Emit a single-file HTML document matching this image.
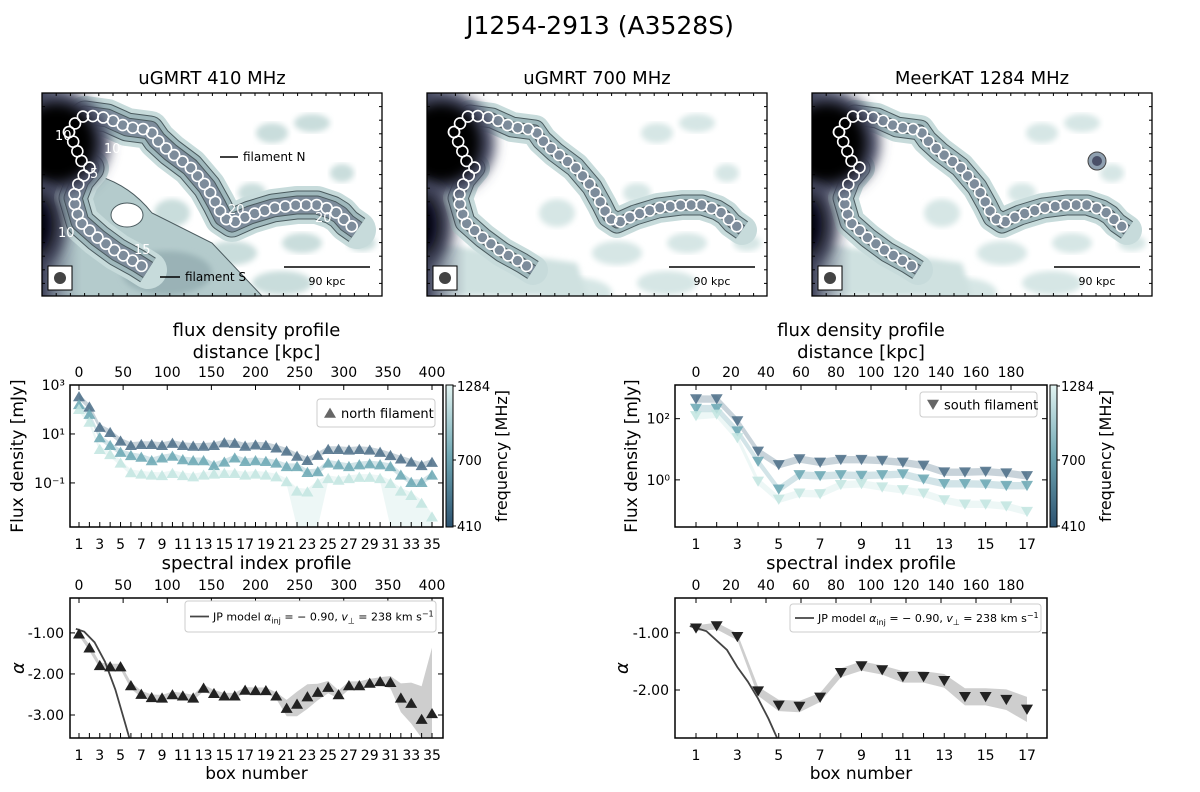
<!DOCTYPE html>
<html><head><meta charset="utf-8"><style>
html,body{margin:0;padding:0;background:#fff;overflow:hidden;width:1200px;height:792px}
svg{display:block;font-family:"DejaVu Sans","Liberation Sans",sans-serif}
</style></head><body>
<svg id="fig" width="1200" height="792" viewBox="0 0 1200 792" xmlns="http://www.w3.org/2000/svg">
<defs>
<linearGradient id="cbar" x1="0" y1="1" x2="0" y2="0">
<stop offset="0" stop-color="#2c5270"/><stop offset="0.5" stop-color="#6fa7b3"/><stop offset="1" stop-color="#e2f4f2"/>
</linearGradient>
<linearGradient id="edge" x1="0" y1="0" x2="1" y2="0">
<stop offset="0" stop-color="#3c3f57"/><stop offset="1" stop-color="#8a93a6" stop-opacity="0"/>
</linearGradient>
<filter id="soft"><feGaussianBlur stdDeviation="3"/></filter>
<filter id="blur6" x="-50%" y="-50%" width="200%" height="200%"><feGaussianBlur stdDeviation="6"/></filter>
</defs>
<text x="600" y="34" font-size="25" text-anchor="middle">J1254-2913 (A3528S)</text>
<g id="panels"></g>
<g id="charts"></g>
</svg>
<script>
// ---------- chart data ----------
const northBoxes = [1,2,3,4,5,6,7,8,9,10,11,12,13,14,15,16,17,18,19,20,21,22,23,24,25,26,27,28,29,30,31,32,33,34,35];
const northLog410 = [2.53,2.11,1.28,1.07,0.72,0.54,0.58,0.58,0.54,0.63,0.54,0.51,0.51,0.54,0.65,0.63,0.51,0.56,0.54,0.44,0.31,0.10,-0.07,0.14,0.38,0.38,0.35,0.38,0.35,0.26,0.13,-0.01,-0.14,-0.28,-0.15];
const northLog700 = [2.21,1.81,0.86,0.54,0.26,0.13,0.06,-0.08,0.03,0.10,-0.04,-0.08,-0.08,-0.28,-0.14,0.03,-0.11,-0.08,-0.11,-0.18,-0.32,-0.32,-0.56,-0.53,-0.18,-0.25,-0.32,-0.25,-0.21,-0.25,-0.32,-0.67,-0.97,-0.97,-0.67];
const northLog1284 = [2.01,1.49,0.38,0.17,-0.18,-0.57,-0.63,-0.67,-0.69,-0.60,-0.69,-0.74,-0.67,-0.63,-0.60,-0.60,-0.67,-0.63,-0.67,-0.74,-0.94,-1.32,-1.36,-1.01,-0.81,-0.88,-0.81,-0.76,-0.76,-0.81,-1.01,-1.32,-1.50,-1.82,-2.38];
const northUpperLimitBoxes = [22,23,24,31,32,33,34,35];
const southBoxes = [1,2,3,4,5,6,7,8,9,10,11,12,13,14,15,16,17];
const southLog410 = [2.64,2.64,1.92,0.93,0.49,0.68,0.57,0.66,0.66,0.63,0.57,0.47,0.25,0.25,0.27,0.22,0.13];
const southLog700 = [2.33,2.33,1.59,0.60,-0.31,0.16,0.13,0.16,0.14,0.16,0.19,0.02,-0.13,-0.13,-0.14,-0.19,-0.19];
const southLog1284 = [2.09,2.14,1.37,-0.05,-0.64,-0.44,-0.46,-0.16,-0.13,-0.24,-0.33,-0.44,-0.66,-0.80,-0.80,-0.86,-1.04];
const northAlpha = [-1.02,-1.36,-1.79,-1.82,-1.82,-2.28,-2.49,-2.57,-2.58,-2.50,-2.53,-2.58,-2.34,-2.47,-2.53,-2.53,-2.39,-2.40,-2.40,-2.53,-2.83,-2.73,-2.55,-2.44,-2.32,-2.50,-2.28,-2.28,-2.22,-2.18,-2.20,-2.58,-2.71,-3.10,-2.96];
const northAlphaErr = [0.05,0.08,0.07,0.07,0.07,0.08,0.08,0.07,0.07,0.07,0.07,0.07,0.08,0.08,0.07,0.07,0.07,0.07,0.07,0.08,0.2,0.3,0.3,0.2,0.15,0.1,0.1,0.1,0.1,0.1,0.15,0.35,0.5,0.8,1.6];
const southAlpha = [-0.92,-0.88,-1.07,-2.02,-2.27,-2.29,-2.13,-1.70,-1.58,-1.65,-1.77,-1.77,-1.84,-2.12,-2.12,-2.17,-2.34];
const southAlphaErr = [0.05,0.06,0.06,0.08,0.1,0.1,0.08,0.08,0.08,0.08,0.1,0.1,0.12,0.15,0.15,0.18,0.22];
const jpNorthBox = [0.7,1.5,2.5,3.5,4.5,5.5,5.85];
const jpNorthAlpha = [-0.9,-0.97,-1.23,-1.70,-2.38,-3.25,-3.6];
const jpSouthBox = [0.7,1.5,2.5,3,3.5,4,4.5,4.92];
const jpSouthAlpha = [-0.88,-0.97,-1.3,-1.6,-1.85,-2.15,-2.5,-2.84];
const northKpcTicks = [0,50,100,150,200,250,300,350,400];
const southKpcTicks = [0,20,40,60,80,100,120,140,160,180];
const northFluxTicks = [3,1,-1];
const southFluxTicks = [2,0];
const northAlphaTicks = [-1,-2,-3];
const southAlphaTicks = [-1,-2];

const NS='http://www.w3.org/2000/svg';
function mk(tag, attrs, parent){const e=document.createElementNS(NS,tag);for(const k in attrs)e.setAttribute(k,attrs[k]);(parent||document.getElementById('charts')).appendChild(e);return e;}
const supMap={'-':'⁻','0':'⁰','1':'¹','2':'²','3':'³'};
function sup(n){return String(n).split('').map(c=>supMap[c]).join('');}

// ---------- image panels ----------
const northPath=[[27,39],[34,29],[43,22],[65,25],[85,34],[108,37],[115,47],[128,59],[148,74],[165,94],[175,112],[181,124],[190,130],[208,122],[231,115],[255,112],[275,112],[290,117],[298,122],[305,130],[315,137]];
const southPath=[[27,39],[40,69],[48,75],[38,87],[31,105],[38,129],[56,145],[75,159],[95,170],[106,177]];
function pathD(pts,ox,oy){return pts.map((p,i)=>(i?'L':'M')+(p[0]+ox)+','+(p[1]+oy)).join(' ');}
function circlesAlong(pts,ox,oy,g,step){
  let out=[[pts[0][0],pts[0][1]]];let carry=0;
  for(let i=1;i<pts.length;i++){const dx=pts[i][0]-pts[i-1][0],dy=pts[i][1]-pts[i-1][1];const L=Math.hypot(dx,dy);let t=step-carry;while(t<=L){out.push([pts[i-1][0]+dx*t/L,pts[i-1][1]+dy*t/L]);t+=step;}carry=L-(t-step);}
  out.forEach(p=>{const c=mk('circle',{cx:p[0]+ox,cy:p[1]+oy,r:5.5,fill:'none',stroke:'#fff','stroke-width':1.6},g);
  
  });
}
const panelTitles=['uGMRT 410 MHz','uGMRT 700 MHz','MeerKAT 1284 MHz'];
const panelX=[42,427,812];
const pg=document.getElementById('panels');
panelTitles.forEach((t,i)=>{
  const ox=panelX[i],oy=93,W=340,H=203;
  const g=mk('g',{},pg);
  
  
  const clipId='clip'+i;
  const cp=mk('clipPath',{id:clipId},g);mk('rect',{x:ox,y:oy,width:W,height:H},cp);
  const inner=mk('g',{'clip-path':'url(#'+clipId+')'},g);
  mk('rect',{x:ox,y:oy,width:W,height:H,fill:'#fff'},inner);
  const blobs=[[230,40,16,10],[300,80,12,9],[150,200,35,15],[240,190,30,12],[80,185,35,14],[320,150,14,8],[190,160,25,12],[270,30,18,9],[260,150,20,10],[130,120,18,14],[210,100,14,10]];
  blobs.forEach(b=>mk('ellipse',{cx:ox+b[0],cy:oy+b[1],rx:b[2],ry:b[3],fill:i===0?'#c9dddc':'#d6e6e5',filter:'url(#soft)'},inner));
  if(i===0){
    mk('path',{d:'M'+(ox)+','+(oy+80)+' Q'+(ox+70)+','+(oy+70)+' '+(ox+110)+','+(oy+120)+' L'+(ox+170)+','+(oy+150)+' L'+(ox+220)+','+(oy+203)+' L'+ox+','+(oy+203)+'Z',fill:'#b4cbcc',stroke:'#4a5a5e','stroke-width':1},inner);
    mk('ellipse',{cx:ox+125,cy:oy+180,rx:45,ry:22,fill:'#9ab2b6',filter:'url(#soft)'},inner);
    mk('ellipse',{cx:ox+85,cy:oy+122,rx:16,ry:12,fill:'#fff',stroke:'#4a5a5e','stroke-width':1},inner);
  } else {
    mk('path',{d:'M'+(ox)+','+(oy+150)+' Q'+(ox+80)+','+(oy+160)+' '+(ox+150)+','+(oy+170)+' L'+(ox+160)+','+(oy+203)+' L'+ox+','+(oy+203)+'Z',fill:'#cfe1e0',filter:'url(#soft)'},inner);
  }
  mk('rect',{x:ox,y:oy,width:40,height:H,fill:'url(#edge)'},inner);
  const wide=i===0?34:26;
  [northPath,southPath].forEach(pp=>{
    mk('path',{d:pathD(pp,ox,oy),fill:'none',stroke:'#c7dbdb','stroke-width':wide+4,'stroke-linecap':'round','stroke-linejoin':'round'},inner);
    mk('path',{d:pathD(pp,ox,oy),fill:'none',stroke:'#4a5a5e','stroke-width':wide-5,'stroke-linejoin':'round'},inner);
    mk('path',{d:pathD(pp,ox,oy),fill:'none',stroke:'#9fb8bc','stroke-width':wide-7,'stroke-linejoin':'round'},inner);
    mk('path',{d:pathD(pp,ox,oy),fill:'none',stroke:'#4a5a5e','stroke-width':wide-15,'stroke-linejoin':'round'},inner);
    mk('path',{d:pathD(pp,ox,oy),fill:'none',stroke:'#7d8c9b','stroke-width':wide-17,'stroke-linejoin':'round'},inner);
  });
  // dark cluster cores
  const halo=mk('ellipse',{cx:ox+16,cy:oy+50,rx:52,ry:52,fill:'#4a4e66',filter:'url(#blur6)'},inner);
  
  
  const core=mk('ellipse',{cx:ox+14,cy:oy+50,rx:40,ry:40,fill:'#000',filter:'url(#blur6)'},inner);
  
  
  mk('ellipse',{cx:ox-2,cy:oy+132,rx:26,ry:40,fill:'#3a3d52',filter:'url(#blur6)'},inner);
  mk('ellipse',{cx:ox-6,cy:oy+132,rx:16,ry:28,fill:'#050508',filter:'url(#blur6)'},inner);
  if(i===2){mk('circle',{cx:ox+285,cy:oy+68,r:9,fill:'#8fa0b0',stroke:'#444','stroke-width':1},inner);mk('circle',{cx:ox+285,cy:oy+68,r:5,fill:'#4a5068'},inner);}
  circlesAlong(northPath,ox,oy,inner,10.5);
  circlesAlong(southPath,ox,oy,inner,10.5);
  mk('rect',{x:ox+6,y:oy+173,width:24,height:24,fill:'#fff',stroke:'#000','stroke-width':1},g);
  mk('circle',{cx:ox+18,cy:oy+185,r:6,fill:'#444'},g);
  const sb=mk('line',{x1:ox+242,y1:oy+174,x2:ox+328,y2:oy+174,stroke:'#000','stroke-width':1.6},g);
  
  
  const st=mk('text',{x:ox+285,y:oy+192,'font-size':11,'text-anchor':'middle'},g);st.textContent='90 kpc';
  
  
  mk('rect',{x:ox,y:oy,width:W,height:H,fill:'none',stroke:'#000','stroke-width':1.3},g);
  for(let k=1;k<24;k++){const x=ox+k*14.2;mk('line',{x1:x,y1:oy,x2:x,y2:oy+3,stroke:'#000'},g);mk('line',{x1:x,y1:oy+H,x2:x,y2:oy+H-3,stroke:'#000'},g);}
  for(let k=1;k<15;k++){const y=oy+k*13.6;mk('line',{x1:ox,y1:y,x2:ox+3,y2:y,stroke:'#000'},g);mk('line',{x1:ox+W,y1:y,x2:ox+W-3,y2:y,stroke:'#000'},g);}
  const tt=mk('text',{x:ox+W/2,y:84,'font-size':18,'text-anchor':'middle'},g);tt.textContent=t;
  
  
  if(i===0){
    const labs=[['10',55,140],['10',104,153],['5',90,178],['20',228,214],['20',315,222],['10',58,237],['15',134,254]];
    labs.forEach(l=>{const e=mk('text',{x:l[1],y:l[2],'font-size':13,fill:'#fff'},g);e.textContent=l[0];
      
      });
    mk('line',{x1:220,y1:157,x2:238,y2:157,stroke:'#000','stroke-width':1.5},g);
    const fn=mk('text',{x:243,y:161,'font-size':12},g);fn.textContent='filament N';
    
    
    mk('line',{x1:160,y1:277,x2:180,y2:277,stroke:'#000','stroke-width':1.5},g);
    const fs=mk('text',{x:185,y:281,'font-size':12},g);fs.textContent='filament S';
    
    
  }
});

// ---------- charts ----------
function frame(x0,x1,y0,y1,name){
  const r=mk('rect',{x:x0,y:y0,width:x1-x0,height:y1-y0,fill:'none',stroke:'#000','stroke-width':1.5});
  
  
}
function txt(s,x,y,size,anchor,name,extra){const e=mk('text',Object.assign({x:x,y:y,'font-size':size,'text-anchor':anchor||'middle'},extra||{}));e.textContent=s;
  
  return e;}
function tri(x,y,down,fill,op,name){
  const s=6;const pts=down?[[x-s,y-s*0.8],[x+s,y-s*0.8],[x,y+s*0.9]]:[[x-s,y+s*0.8],[x+s,y+s*0.8],[x,y-s*0.9]];
  const p=mk('polygon',{points:pts.map(q=>q.join(',')).join(' '),fill:fill,'fill-opacity':op});
  
  
}
function bandPoly(xs,lo,hi,fill,op,name){
  const pts=xs.map((x,i)=>x+','+hi[i]).concat(xs.map((x,i)=>x+','+lo[i]).reverse());
  const p=mk('polygon',{points:pts.join(' '),fill:fill,'fill-opacity':op});
  
  
}
function xAxes(cfg){
  const {x0,x1,y0,y1,boxes,bx,kpcTicks,kx,bottomLabel}=cfg;
  boxes.forEach(b=>{const x=bx(b);
    mk('line',{x1:x,y1:y1,x2:x,y2:y1-5,stroke:'#000'});
    if(b%2===1)txt(String(b),x,y1+22,14,'middle','x-tick-label');});
  kpcTicks.forEach(d=>{const x=kx(d);
    mk('line',{x1:x,y1:y0,x2:x,y2:y0+5,stroke:'#000'});
    txt(String(d),x,y0-8,14,'middle','top-tick-label');});
  if(bottomLabel)txt('box number',(x0+x1)/2,y1+41,17,'middle','x-axis-title');
}
function fluxChart(c){
  const {x0,x1,y0,y1,lmin,lmax,boxes,series,down,kpcTicks,kmax,kx1,ticks,legend,legendBox,cbx,upperLim}=c;
  const bx=b=>c.bx0+(b-1)*(c.bx1-c.bx0)/(boxes[boxes.length-1]-1);
  const ly=l=>y1-(l-lmin)/(lmax-lmin)*(y1-y0);
  const kx=d=>c.bx0+d*(kx1-c.bx0)/kmax;
  const xs=boxes.map(bx);
  series.forEach((s,si)=>{
    const hi=s.v.map(v=>ly(v+0.12));
    const lo=s.v.map((v,i)=>(si===2&&upperLim&&upperLim.includes(boxes[i]))?y1:ly(v-0.12));
    bandPoly(xs,lo,hi,s.c,0.3,'error-band-'+s.n);
  });
  series.forEach(s=>s.v.forEach((v,i)=>tri(xs[i],ly(v),down,s.c,0.85,'marker-'+s.n+'-box-'+boxes[i])));
  frame(x0,x1,y0,y1,c.name);
  ticks.forEach(t=>{const y=ly(t);mk('line',{x1:x0,y1:y,x2:x0+5,y2:y,stroke:'#000'});mk('line',{x1:x1,y1:y,x2:x1-5,y2:y,stroke:'#000'});
    txt('10'+sup(t),x0-5,y+5,14,'end','y-tick-label');});
  xAxes({x0,x1,y0,y1,boxes,bx,kpcTicks,kx,bottomLabel:false});
  txt('flux density profile',(x0+x1)/2,336,18,'middle','chart-title');
  txt('distance [kpc]',(x0+x1)/2,358,18,'middle','top-axis-title');
  txt('Flux density [mJy]',0,0,17,'middle','y-axis-title',{transform:'translate('+c.ylx+','+((y0+y1)/2)+') rotate(-90)'});
  const lg=mk('rect',{x:legendBox[0],y:legendBox[1],width:legendBox[2],height:legendBox[3],fill:'#fff',stroke:'#ccc',rx:3});
  
  
  tri(legendBox[0]+13,legendBox[1]+legendBox[3]/2,down,'#666',1,'legend-marker');
  txt(legend,legendBox[0]+24,legendBox[1]+legendBox[3]/2+5,13,'start','legend-entry');
  const cb=mk('rect',{x:cbx,y:y0,width:7,height:y1-y0,fill:'url(#cbar)',stroke:'#000','stroke-width':1});
  
  
  [['1284',y0+6],['700',y0+80],['410',y1+4]].forEach(a=>{mk('line',{x1:cbx+7,y1:a[1]-5,x2:cbx+10,y2:a[1]-5,stroke:'#000'});txt(a[0],cbx+11,a[1],13,'start','colorbar-tick-label');});
  txt('frequency [MHz]',0,0,16,'middle','colorbar-title',{transform:'translate('+(cbx+61)+','+((y0+y1)/2)+') rotate(-90)'});
}
fluxChart({name:'north-flux-axes',x0:70,x1:443,y0:385,y1:527,lmin:-2.8,lmax:3,bx0:79,bx1:432,boxes:northBoxes,
  series:[{n:'410',c:'#4a6c86',v:northLog410},{n:'700',c:'#6aa7b3',v:northLog700},{n:'1284',c:'#c2e5e1',v:northLog1284}],
  down:false,kpcTicks:northKpcTicks,kmax:400,kx1:432,ticks:northFluxTicks,legend:'north filament',legendBox:[317,399,118,28],cbx:446,ylx:23,upperLim:northUpperLimitBoxes});
fluxChart({name:'south-flux-axes',x0:675,x1:1047,y0:385,y1:527,lmin:-1.54,lmax:3.1,bx0:696,bx1:1027,boxes:southBoxes,
  series:[{n:'410',c:'#4a6c86',v:southLog410},{n:'700',c:'#6aa7b3',v:southLog700},{n:'1284',c:'#c2e5e1',v:southLog1284}],
  down:true,kpcTicks:southKpcTicks,kmax:180,kx1:1011,ticks:southFluxTicks,legend:'south filament',legendBox:[920,392,117,25],cbx:1050,ylx:637});

function alphaChart(c){
  const {x0,x1,y0,y1,amin,amax,boxes,vals,errs,down,kpcTicks,kmax,kx1,ticks,jpB,jpA,legendBox}=c;
  const bx=b=>c.bx0+(b-1)*(c.bx1-c.bx0)/(boxes[boxes.length-1]-1);
  const ay=a=>Math.max(y0,Math.min(y1,y1-(a-amin)/(amax-amin)*(y1-y0)));
  const kx=d=>c.bx0+d*(kx1-c.bx0)/kmax;
  const xs=boxes.map(bx);
  bandPoly(xs,vals.map((v,i)=>ay(v-errs[i])),vals.map((v,i)=>ay(v+errs[i])),'#bdbdbd',0.75,'alpha-error-band');
  const jp=mk('path',{d:jpB.map((b,i)=>(i?'L':'M')+bx(b)+','+ay(jpA[i])).join(' '),fill:'none',stroke:'#444','stroke-width':1.8});
  
  
  vals.forEach((v,i)=>tri(xs[i],ay(v),down,'#222',1,'alpha-marker-box-'+boxes[i]));
  frame(x0,x1,y0,y1,c.name);
  ticks.forEach(t=>{const y=ay(t);mk('line',{x1:x0,y1:y,x2:x0+5,y2:y,stroke:'#000'});mk('line',{x1:x1,y1:y,x2:x1-5,y2:y,stroke:'#000'});
    txt(t.toFixed(2),x0-6,y+5,14,'end','y-tick-label');});
  xAxes({x0,x1,y0,y1,boxes,bx,kpcTicks,kx,bottomLabel:true});
  txt('spectral index profile',(x0+x1)/2,569,18,'middle','chart-title');
  txt('α',0,0,18,'middle','y-axis-title',{transform:'translate('+c.ylx+','+((y0+y1)/2)+') rotate(-90)','font-style':'italic'});
  const lg=mk('rect',{x:legendBox[0],y:legendBox[1],width:legendBox[2],height:legendBox[3],fill:'#fff',stroke:'#ccc',rx:3});
  
  
  const cy=legendBox[1]+legendBox[3]/2;
  mk('line',{x1:legendBox[0]+5,y1:cy,x2:legendBox[0]+24,y2:cy,stroke:'#444','stroke-width':1.8});
  const t=mk('text',{x:legendBox[0]+28,y:cy+4,'font-size':11,'text-anchor':'start'});
  
  
  const parts=[['JP model ',{}],['α',{'font-style':'italic'}],['inj',{'font-size':8,dy:3}],[' = − 0.90, ',{dy:-3}],['v',{'font-style':'italic'}],['⊥',{'font-size':8,dy:3}],[' = 238 km s',{dy:-3}],['−1',{'font-size':8,dy:-4}]];
  parts.forEach(p=>{const s=mk('tspan',p[1],t);s.textContent=p[0];});
}
alphaChart({name:'north-alpha-axes',x0:70,x1:443,y0:598,y1:738,amin:-3.56,amax:-0.15,bx0:79,bx1:432,boxes:northBoxes,vals:northAlpha,errs:northAlphaErr,
  down:false,kpcTicks:northKpcTicks,kmax:400,kx1:432,ticks:northAlphaTicks,jpB:jpNorthBox,jpA:jpNorthAlpha,legendBox:[185,601,251,31],ylx:24});
alphaChart({name:'south-alpha-axes',x0:675,x1:1047,y0:598,y1:738,amin:-2.84,amax:-0.39,bx0:696,bx1:1027,boxes:southBoxes,vals:southAlpha,errs:southAlphaErr,
  down:true,kpcTicks:southKpcTicks,kmax:180,kx1:1011,ticks:southAlphaTicks,jpB:jpSouthBox,jpA:jpSouthAlpha,legendBox:[790,604,251,28],ylx:628});
</script>
</body></html>
